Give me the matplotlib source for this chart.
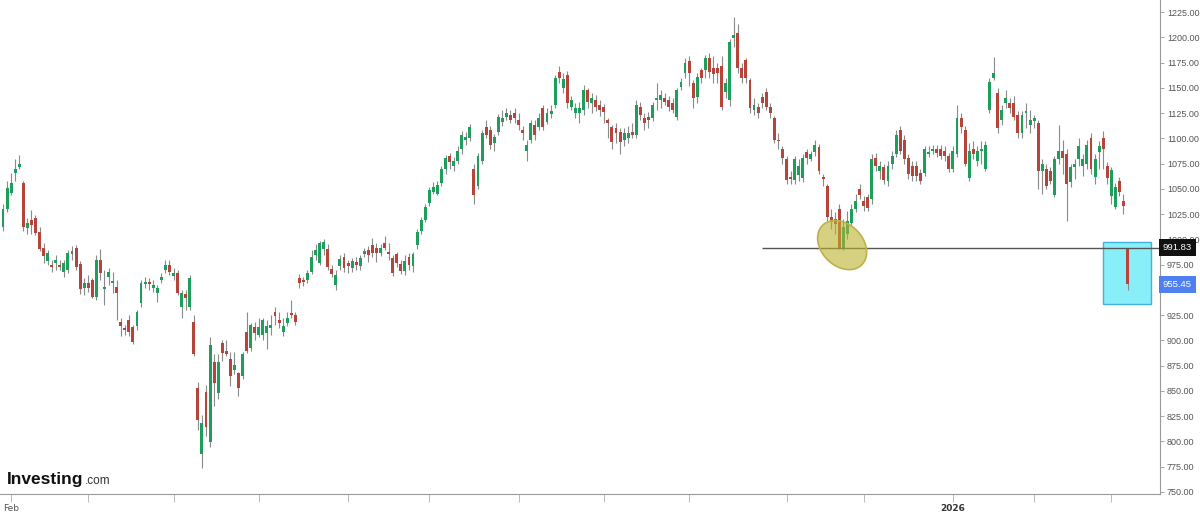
import numpy as np
import matplotlib
matplotlib.use("Agg")
import matplotlib.pyplot as plt
from matplotlib.patches import Rectangle

# daily candles, Feb 2025 -> Mar 2026
opens = [1012, 1030, 1046, 1066, 1072, 1056, 1011, 1019, 1021, 1007, 992, 979, 975, 977, 975, 968, 970, 986, 992, 976,
         952, 957, 960, 943, 980, 951, 963, 957, 953, 918, 912, 920, 913, 914, 937, 956, 958, 952, 947, 960,
         970, 975, 964, 967, 933, 946, 933, 918, 853, 788, 849, 799, 879, 848, 897, 890, 882, 871, 868, 865,
         908, 893, 913, 905, 905, 907, 912, 928, 920, 908, 917, 927, 925, 962, 960, 960, 968, 985, 977, 991,
         991, 971, 955, 974, 983, 977, 972, 978, 974, 986, 990, 994, 992, 987, 996, 988, 982, 986, 976, 969,
         983, 974, 994, 1008, 1019, 1036, 1047, 1045, 1056, 1070, 1083, 1073, 1078, 1090, 1098, 1100, 1070, 1053, 1078, 1111,
         1108, 1095, 1106, 1116, 1121, 1123, 1125, 1118, 1108, 1088, 1098, 1113, 1111, 1130, 1116, 1124, 1133, 1166, 1150, 1163,
         1131, 1125, 1125, 1128, 1148, 1135, 1138, 1133, 1131, 1118, 1111, 1110, 1106, 1098, 1100, 1106, 1103, 1131, 1120, 1121,
         1120, 1138, 1138, 1140, 1138, 1135, 1121, 1151, 1165, 1177, 1155, 1141, 1168, 1168, 1180, 1170, 1170, 1172, 1146, 1138,
         1199, 1204, 1170, 1178, 1158, 1128, 1131, 1141, 1146, 1131, 1120, 1098, 1090, 1080, 1062, 1059, 1064, 1061, 1087, 1080,
         1087, 1091, 1062, 1053, 1022, 1020, 1030, 991, 1005, 1016, 1030, 1050, 1038, 1042, 1040, 1081, 1068, 1072, 1058, 1075,
         1085, 1108, 1098, 1081, 1073, 1073, 1066, 1066, 1085, 1088, 1090, 1090, 1088, 1083, 1070, 1085, 1120, 1108, 1061, 1090,
         1078, 1088, 1070, 1128, 1160, 1145, 1118, 1135, 1135, 1135, 1123, 1105, 1125, 1113, 1117, 1115, 1068, 1070, 1068, 1044,
         1080, 1088, 1085, 1057, 1072, 1080, 1073, 1075, 1100, 1062, 1087, 1100, 1073, 1043, 1032, 1058, 1038, 991.83]
highs = [1035, 1058, 1066, 1080, 1084, 1058, 1021, 1029, 1024, 1012, 996, 990, 980, 985, 980, 980, 990, 993, 994, 979,
         962, 965, 962, 985, 991, 970, 972, 968, 960, 922, 915, 925, 915, 930, 960, 963, 962, 960, 955, 967,
         980, 980, 972, 970, 950, 950, 965, 925, 859, 826, 856, 903, 887, 887, 900, 900, 889, 889, 869, 889,
         928, 917, 918, 922, 922, 920, 925, 933, 928, 922, 928, 940, 928, 966, 963, 970, 990, 995, 998, 1000,
         995, 975, 970, 985, 987, 980, 982, 983, 985, 992, 993, 1001, 996, 995, 1003, 996, 985, 988, 980, 985,
         987, 988, 1010, 1022, 1035, 1052, 1057, 1058, 1073, 1084, 1086, 1082, 1092, 1107, 1106, 1114, 1075, 1086, 1108, 1118,
         1112, 1104, 1124, 1128, 1130, 1128, 1130, 1125, 1112, 1098, 1118, 1118, 1125, 1133, 1130, 1133, 1163, 1172, 1165, 1167,
         1142, 1135, 1136, 1153, 1150, 1145, 1143, 1138, 1134, 1120, 1113, 1115, 1110, 1110, 1112, 1115, 1138, 1136, 1125, 1126,
         1136, 1155, 1148, 1145, 1142, 1140, 1150, 1160, 1180, 1182, 1158, 1165, 1170, 1183, 1185, 1182, 1175, 1182, 1160, 1198,
         1220, 1213, 1175, 1180, 1160, 1140, 1135, 1145, 1150, 1135, 1122, 1105, 1092, 1083, 1068, 1083, 1080, 1085, 1090, 1088,
         1098, 1094, 1065, 1055, 1030, 1027, 1035, 1020, 1028, 1035, 1045, 1055, 1043, 1045, 1085, 1086, 1078, 1075, 1078, 1088,
         1108, 1112, 1103, 1085, 1078, 1078, 1070, 1092, 1092, 1093, 1093, 1093, 1092, 1086, 1092, 1133, 1125, 1112, 1095, 1097,
         1092, 1097, 1097, 1160, 1181, 1150, 1133, 1148, 1140, 1142, 1127, 1127, 1135, 1128, 1123, 1118, 1080, 1075, 1072, 1083,
         1113, 1098, 1090, 1075, 1080, 1100, 1085, 1098, 1105, 1085, 1097, 1107, 1077, 1072, 1056, 1062, 1045, 992]
lows = [1008, 1027, 1044, 1058, 1070, 1008, 1005, 1005, 1004, 989, 977, 975, 968, 970, 970, 963, 967, 980, 970, 946,
        945, 948, 942, 940, 960, 935, 955, 947, 920, 904, 905, 904, 896, 910, 933, 952, 950, 948, 938, 957,
        967, 965, 960, 945, 922, 930, 930, 885, 811, 774, 805, 795, 835, 842, 880, 885, 855, 867, 845, 862,
        888, 890, 900, 903, 900, 892, 905, 915, 912, 904, 914, 922, 915, 952, 954, 957, 966, 980, 975, 985,
        970, 963, 950, 970, 968, 967, 968, 970, 970, 983, 978, 983, 978, 984, 990, 980, 964, 973, 966, 965,
        970, 968, 991, 1005, 1017, 1033, 1045, 1044, 1053, 1065, 1070, 1068, 1075, 1085, 1093, 1097, 1035, 1050, 1075, 1100,
        1090, 1088, 1103, 1112, 1118, 1115, 1115, 1108, 1098, 1078, 1095, 1098, 1108, 1108, 1114, 1120, 1130, 1155, 1145, 1130,
        1128, 1120, 1115, 1123, 1130, 1125, 1127, 1122, 1115, 1100, 1090, 1095, 1085, 1092, 1095, 1100, 1100, 1118, 1108, 1110,
        1117, 1128, 1130, 1133, 1127, 1125, 1118, 1148, 1160, 1152, 1130, 1135, 1155, 1160, 1160, 1155, 1155, 1128, 1140, 1132,
        1190, 1165, 1155, 1155, 1125, 1123, 1120, 1130, 1128, 1120, 1095, 1090, 1075, 1055, 1055, 1055, 1058, 1057, 1075, 1078,
        1083, 1065, 1053, 1018, 1010, 1005, 991, 990, 1000, 1013, 1027, 1040, 1028, 1028, 1035, 1068, 1060, 1055, 1053, 1070,
        1082, 1085, 1075, 1060, 1058, 1058, 1055, 1063, 1082, 1085, 1082, 1080, 1078, 1067, 1067, 1082, 1105, 1073, 1058, 1080,
        1073, 1075, 1068, 1125, 1158, 1105, 1113, 1130, 1125, 1118, 1100, 1100, 1110, 1105, 1110, 1050, 1045, 1050, 1055, 1042,
        1075, 1065, 1018, 1052, 1060, 1073, 1063, 1070, 1065, 1055, 1070, 1070, 1055, 1035, 1030, 1043, 1025, 950]
closes = [1030, 1051, 1056, 1070, 1075, 1012, 1016, 1014, 1006, 991, 984, 987, 973, 980, 973, 977, 987, 989, 973, 951,
          957, 952, 943, 980, 967, 953, 968, 959, 947, 914, 910, 908, 898, 928, 957, 958, 956, 955, 952, 963,
          975, 968, 967, 947, 947, 942, 962, 887, 821, 818, 814, 895, 858, 879, 888, 887, 865, 876, 853, 887,
          890, 915, 907, 913, 920, 914, 915, 924, 917, 914, 922, 925, 918, 957, 958, 967, 983, 990, 996, 997,
          973, 966, 965, 981, 972, 974, 979, 975, 982, 989, 985, 987, 987, 992, 992, 986, 967, 977, 969, 979,
          975, 986, 1007, 1019, 1032, 1049, 1052, 1054, 1070, 1081, 1077, 1078, 1088, 1103, 1101, 1111, 1044, 1083, 1105, 1103,
          1093, 1101, 1121, 1120, 1125, 1118, 1120, 1113, 1105, 1093, 1115, 1103, 1120, 1111, 1125, 1127, 1160, 1160, 1159, 1135,
          1138, 1130, 1130, 1148, 1136, 1140, 1131, 1128, 1126, 1115, 1096, 1105, 1096, 1105, 1105, 1103, 1133, 1123, 1115, 1118,
          1133, 1140, 1143, 1136, 1131, 1128, 1148, 1156, 1175, 1165, 1140, 1161, 1160, 1180, 1166, 1164, 1165, 1131, 1155, 1195,
          1202, 1170, 1160, 1160, 1130, 1133, 1125, 1135, 1131, 1125, 1098, 1097, 1081, 1059, 1060, 1080, 1073, 1081, 1081, 1085,
          1093, 1068, 1060, 1022, 1017, 1015, 992, 1012, 1018, 1030, 1038, 1044, 1033, 1031, 1080, 1073, 1073, 1059, 1073, 1083,
          1103, 1088, 1080, 1065, 1063, 1063, 1058, 1090, 1087, 1090, 1086, 1083, 1083, 1070, 1088, 1120, 1111, 1075, 1088, 1085,
          1088, 1090, 1093, 1156, 1165, 1110, 1128, 1140, 1130, 1121, 1105, 1123, 1127, 1118, 1120, 1068, 1075, 1053, 1058, 1080,
          1088, 1081, 1055, 1072, 1075, 1092, 1080, 1093, 1070, 1080, 1092, 1090, 1061, 1069, 1052, 1047, 1033, 955.45]

# month ticks (candle index), only two are labelled
month_pos = [2, 21, 42, 63, 85, 105, 127, 148, 169, 193, 212, 234, 254, 273]
month_lbl = ['Feb', '', '', '', '', '', '', '', '', '', '', '2026', '', '']

support_level = 991.83
last_close = 955.45

up_col = '#1f9d5c'
dn_col = '#b5443b'

o = np.array(opens, dtype=float)
h = np.array(highs, dtype=float)
l = np.array(lows, dtype=float)
c = np.array(closes, dtype=float)
x = np.arange(len(c))

fig = plt.figure(figsize=(12, 5.12), dpi=100)
ax = fig.add_axes([0, 18 / 512, 1160 / 1200, 494 / 512])
ax.set_xlim(-0.74, 285)
ax.set_ylim(748, 1237)

up = c >= o
cols = np.where(up, up_col, dn_col)
body_lo = np.minimum(o, c)
body_h = np.maximum(np.abs(c - o), 1.2)

ax.vlines(x, l, h, color='#8a8a8a', lw=0.8, zorder=2)
ax.bar(x, body_h, bottom=body_lo, width=0.72, color=cols, linewidth=0, zorder=3)

# horizontal support line
ax.hlines(support_level, 187, 285, color='#555555', lw=1.0, zorder=4)

# highlight ellipse around the December low (drawn in pixel units)
px_x = 1160 / (285 + 0.74)
px_y = 494 / (1237 - 748)
t = np.linspace(0, 2 * np.pi, 200)
a, b, th = 27.8, 20.7, np.deg2rad(-45)
ex = a * np.cos(t) * np.cos(th) - b * np.sin(t) * np.sin(th)
ey = a * np.cos(t) * np.sin(th) + b * np.sin(t) * np.cos(th)
ax.fill(206.7 + ex / px_x, 994.4 + ey / px_y, facecolor=(0.73, 0.70, 0.18, 0.6),
        edgecolor='#bcb24a', lw=1.2, zorder=5)

# cyan box on last candle
ax.add_patch(Rectangle((270.9, 936), 11.9, 61.4, facecolor='#8aeef8',
                       edgecolor='#3fb2e0', lw=1.0, zorder=1))

for side in ['left', 'top']:
    ax.spines[side].set_visible(False)
for side in ['right', 'bottom']:
    ax.spines[side].set_color('#9a9a9a')
    ax.spines[side].set_linewidth(0.8)

yt = np.arange(750, 1226, 25)
ax.yaxis.tick_right()
ax.set_yticks(yt)
ax.set_yticklabels(['%.2f' % v for v in yt])
ax.tick_params(axis='y', length=3, width=0.6, color='#9a9a9a', pad=2,
               labelsize=6.5, labelcolor='#555555')
ax.set_xticks(month_pos)
ax.set_xticklabels(month_lbl)
ax.tick_params(axis='x', length=6, width=0.6, color='#b0b0b0', pad=1,
               labelsize=6.5, labelcolor='#555555')
for lab in ax.get_xticklabels():
    if lab.get_text() == '2026':
        lab.set_fontweight('bold')
        lab.set_color('#333333')
for lab in ax.get_yticklabels():
    lab.set_family(['Liberation Sans', 'DejaVu Sans'])

# price tags on the right axis (they cover the 1000 / 950 labels like the original)
for val, bg in [(support_level, '#111111'), (last_close, '#4f80f2')]:
    ax.annotate('%.2f' % val, xy=(1.0, val), xycoords=('axes fraction', 'data'),
                xytext=(2, 0), textcoords='offset points', ha='left', va='center',
                fontsize=6.8, color='white', family=['Liberation Sans', 'DejaVu Sans'],
                bbox=dict(boxstyle='square,pad=0.45', fc=bg, ec='none'),
                annotation_clip=False, zorder=10)

# watermark
logo = fig.text(7 / 1200, 1 - 484 / 512, 'Investing', fontsize=12.5, fontweight='bold',
                color='#111111', family=['Liberation Sans', 'DejaVu Sans'],
                va='baseline', ha='left')
fig.canvas.draw()
ax.annotate('.com', xy=(1, 0), xycoords=logo, xytext=(1, 0), textcoords='offset points',
            fontsize=8.5, color='#333333', family=['Liberation Sans', 'DejaVu Sans'],
            va='bottom', ha='left', annotation_clip=False)

fig.savefig('out.png', dpi=100)
